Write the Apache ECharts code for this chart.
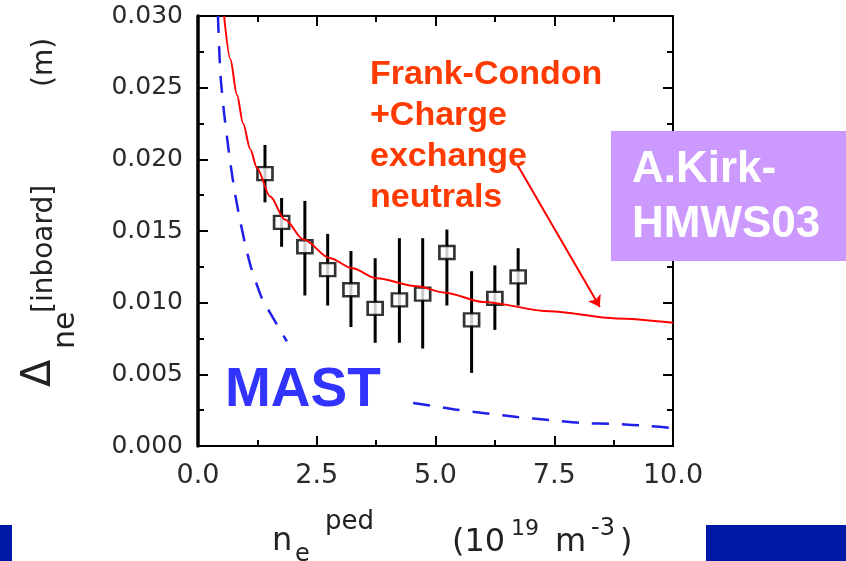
<!DOCTYPE html>
<html>
<head>
<meta charset="utf-8">
<script src="https://cdn.jsdelivr.net/npm/echarts@6/dist/echarts.min.js"></script>
<style>
  html, body { margin: 0; padding: 0; background: #fff; }
  #chart { width: 846px; height: 561px; }
</style>
</head>
<body>
<div id="chart"></div>
<script>
  // measured points with error bars
  const ptX = [1.41, 1.76, 2.25, 2.73, 3.22, 3.73, 4.24, 4.73, 5.24, 5.76, 6.25, 6.74]
  const ptY = [0.0190, 0.0156, 0.0139, 0.0123, 0.0109, 0.0096, 0.0102, 0.0106, 0.0135, 0.0088, 0.0103, 0.0118]
  const errLow = [0.0170, 0.0139, 0.0105, 0.0098, 0.0083, 0.0072, 0.0072, 0.0068, 0.0098, 0.0051, 0.0081, 0.0098]
  const errHigh = [0.0210, 0.0173, 0.0171, 0.0148, 0.0136, 0.0131, 0.0145, 0.0145, 0.0151, 0.0122, 0.0126, 0.0138]

  // Frank-Condon + charge exchange curve (red)
  const fcX = [0.55, 0.68, 0.82, 0.95, 1.1, 1.24, 1.52, 1.83, 2.22, 2.78, 3.25, 3.76, 4.6, 5.2, 6.0, 7.4, 8.8, 10.0]
  const fcY = [0.0300, 0.0270, 0.0245, 0.0225, 0.0207, 0.0194, 0.0174, 0.0158, 0.0144, 0.0131, 0.0124, 0.0117, 0.01115, 0.0107, 0.01005, 0.0094, 0.0089, 0.0086]

  // blue dashed curve, gap where the MAST label hides it
  const dX = [0.42, 0.47, 0.55, 0.67, 0.78, 0.90, 1.02, 1.13, 1.31, 1.375, 1.87, 3.0, 4.53, 4.74, 5.41, 6.08, 6.72, 7.39, 8.08, 8.80, 9.47, 9.98]
  const dY = [0.0300, 0.0260, 0.0232, 0.0200, 0.0176, 0.0155, 0.0137, 0.0123, 0.0106, 0.0101, 0.0073, null, 0.0030, 0.0029, 0.00255, 0.00227, 0.00202, 0.00181, 0.0016, 0.00153, 0.0014, 0.00126]

  const xTicks = [0, 2.5, 5, 7.5, 10]
  const yTicks = [0, 0.005, 0.010, 0.015, 0.020, 0.025, 0.030]

  const arrowFrom = [6.71, 0.0197]
  const arrowTo = [8.46, 0.0097]

  const errData = ptX.map((x, i) => [x, errLow[i], errHigh[i]])
  const ptData = ptX.map((x, i) => [x, ptY[i]])
  const fcData = fcX.map((x, i) => [x, fcY[i]])
  const dData = dX.map((x, i) => [x, dY[i] === null ? '-' : dY[i]])

  const tickFont = '"DejaVu Sans", sans-serif'
  const boldFont = '"Liberation Sans", Arial, sans-serif'

  const axisBase = {
    type: "value",
    axisLine: { show: true, onZero: false, lineStyle: { color: "#000", width: 2 } },
    axisTick: { show: true, inside: true, length: 10, lineStyle: { color: "#000", width: 2 } },
    minorTick: { show: true, splitNumber: 2, length: 6, lineStyle: { color: "#000", width: 2 } },
    splitLine: { show: false },
  }

  const txt = (text, x, y, size, opts) => Object.assign({
    type: "text", x: x, y: y, z: 100,
    style: Object.assign({
      text: text, font: size + 'px ' + tickFont, fill: "#222",
      textAlign: "left", textVerticalAlign: "middle",
    }, (opts && opts.style) || {}),
  }, (opts && opts.el) || {})

  const rot = { el: { rotation: Math.PI / 2 } }

  const options = {
    backgroundColor: "#fff",
    animation: false,
    grid: { left: 198, top: 16, right: 173, bottom: 115, containLabel: false },
    xAxis: [
      Object.assign({}, axisBase, {
        min: xTicks[0], max: xTicks[xTicks.length - 1], interval: 2.5,
        position: "bottom",
        axisLabel: {
          margin: 16, color: "#2a2a2a", fontSize: 27, fontFamily: tickFont,
          formatter: (v) => v.toFixed(1),
        },
      }),
      Object.assign({}, axisBase, {
        min: xTicks[0], max: xTicks[xTicks.length - 1], interval: 2.5,
        position: "top",
        axisLabel: { show: false },
      }),
    ],
    yAxis: [
      Object.assign({}, axisBase, {
        min: yTicks[0], max: yTicks[yTicks.length - 1], interval: 0.005,
        position: "left",
        axisLine: { show: true, onZero: false, lineStyle: { color: "#000", width: 3.5 } },
        axisLabel: {
          margin: 15, color: "#2a2a2a", fontSize: 25, fontFamily: tickFont,
          formatter: (v) => v.toFixed(3),
        },
      }),
      Object.assign({}, axisBase, {
        min: yTicks[0], max: yTicks[yTicks.length - 1], interval: 0.005,
        position: "right",
        axisLabel: { show: false },
      }),
    ],
    series: [
      {
        type: "line",
        data: dData,
        showSymbol: false,
        connectNulls: false,
        smooth: 0.2,
        lineStyle: { color: "#1f1fe8", width: 2.5, type: [17, 13] },
        z: 2,
      },
      {
        type: "custom",
        data: errData,
        encode: { x: 0, y: [1, 2] },
        renderItem: function (params, api) {
          const lo = api.coord([api.value(0), api.value(1)])
          const hi = api.coord([api.value(0), api.value(2)])
          return {
            type: "line",
            shape: { x1: lo[0], y1: lo[1], x2: hi[0], y2: hi[1] },
            style: { stroke: "#000", lineWidth: 3 },
          }
        },
        z: 3,
      },
      {
        type: "scatter",
        data: ptData,
        symbol: "rect",
        symbolSize: [15, 13],
        itemStyle: { color: "#fff", borderColor: "#000", borderWidth: 2.5 },
        z: 4,
      },
      {
        type: "line",
        data: fcData,
        showSymbol: false,
        smooth: 0.3,
        smoothMonotone: "x",
        lineStyle: { color: "#ff0000", width: 2 },
        z: 5,
        markLine: {
          silent: true,
          symbol: ["none", "arrow"],
          symbolSize: 11,
          label: { show: false },
          lineStyle: { color: "#ff0000", width: 2, type: "solid" },
          data: [[{ coord: arrowFrom }, { coord: arrowTo }]],
        },
      },
    ],
    graphic: [
      // annotation texts
      {
        type: "text", x: 370, y: 54, z: 100,
        style: {
          text: "Frank-Condon\n+Charge\nexchange\nneutrals",
          font: 'bold 34px ' + boldFont, fill: "#ff3a00", lineHeight: 41,
          textAlign: "left", textVerticalAlign: "top",
        },
      },
      {
        type: "text", x: 225, y: 391, z: 100,
        style: {
          text: "MAST", font: 'bold 55px ' + boldFont, fill: "#3333ff",
          textAlign: "left", textVerticalAlign: "middle",
        },
      },
      { type: "rect", z: 100, shape: { x: 611, y: 131, width: 235, height: 130 }, style: { fill: "#cc99ff" } },
      {
        type: "text", x: 632, y: 142, z: 101,
        style: {
          text: "A.Kirk-\nHMWS03", font: 'bold 44px ' + boldFont, fill: "#fff", lineHeight: 55,
          textAlign: "left", textVerticalAlign: "top",
        },
      },
      // bottom decoration bars
      { type: "rect", z: 100, shape: { x: 0, y: 525, width: 12, height: 36 }, style: { fill: "#0018a8" } },
      { type: "rect", z: 100, shape: { x: 706, y: 525, width: 140, height: 36 }, style: { fill: "#0018a8" } },
      // x axis name
      txt("n", 272, 542, 32),
      txt("e", 295, 555, 24),
      txt("ped", 325, 522, 26),
      txt("(10", 452, 543, 32),
      txt("19", 511, 529, 22),
      txt("m", 555, 543, 32),
      txt("-3", 591, 529, 24),
      txt(")", 620, 543, 32),
      // y axis name (rotated)
      txt("Δ", 40, 387, 40, rot),
      txt("ne", 66, 349, 30, rot),
      txt("[inboard]", 45, 313, 28, rot),
      txt("(m)", 45, 87, 28, rot),
    ],
  }

  const myChart = echarts.init(document.getElementById("chart"))
  myChart.setOption(options)
  window.addEventListener("resize", () => myChart.resize(), false)
</script>
</body>
</html>
